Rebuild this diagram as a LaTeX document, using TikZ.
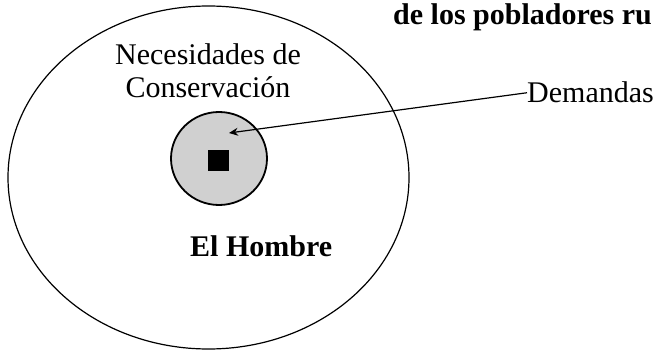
\documentclass[tikz,border=0pt]{standalone}
\usepackage{fontspec}
\setmainfont{Liberation Serif}
\usepackage{tikz}
\usetikzlibrary{shapes.geometric, arrows.meta, positioning}
\definecolor{stipple}{RGB}{208, 208, 208}
\tikzstyle{ring} = [ellipse, draw, line width=1.2pt, inner sep=0pt]
\tikzstyle{label} = [inner sep=0pt, font=\fontsize{30}{33}\selectfont]
\tikzstyle{arrow} = [line width=1.2pt, -{Stealth[length=9pt, width=8pt, inset=3pt]}]

\begin{document}
\begin{tikzpicture}[x=1pt, y=1pt]
    \useasboundingbox (0,0) rectangle (658,353);
    \node[ring, minimum width=401pt, minimum height=343pt] (hombre) at (208.5,175.5) {};
    \node[ring, line width=1.8pt, fill=stipple, minimum width=96pt, minimum height=93pt] (necesidad) at (219,194.5) {};
    \node[rectangle, fill=black, minimum size=21pt, inner sep=0pt] (nucleo) at (218.5,192.5) {};

    % the base of a two-line node is its last line
    \node[label, align=center, anchor=base] (necesidades) at (208,255) {Necesidades de\\Conservación};
    \node[label, font=\fontsize{30}{35}\selectfont\bfseries, anchor=base west] (elhombre) at (190,96) {El Hombre};
    \node[label, font=\fontsize{30}{35}\selectfont\bfseries, anchor=base west] (pobladores) at (393,328) {de los pobladores ru};
    \node[label, anchor=base west] (demandas) at (527,250) {Demandas};

    \coordinate (tip) at (229,220);
    \draw[arrow] (demandas.west) -- (tip);
\end{tikzpicture}
\end{document}
